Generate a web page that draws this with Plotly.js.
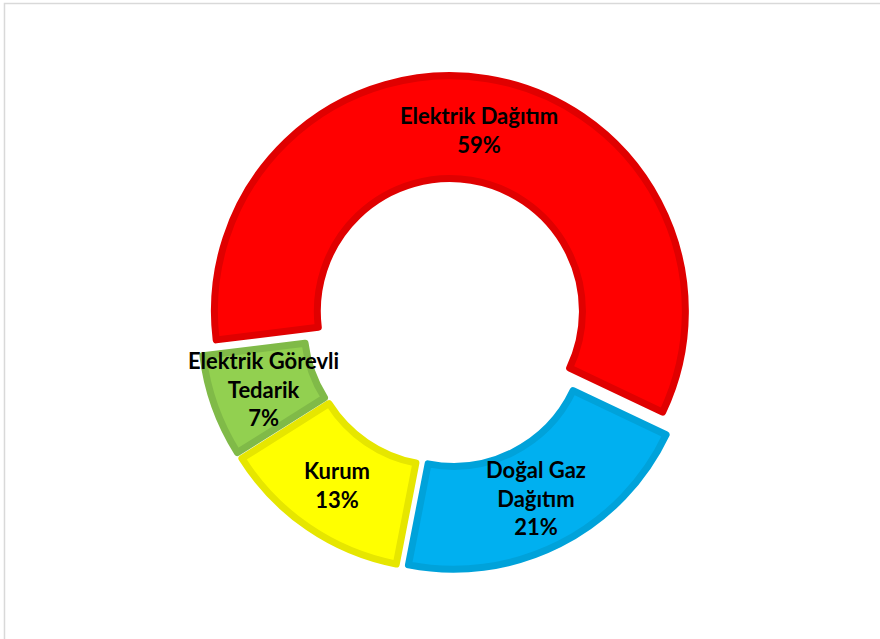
<!DOCTYPE html>
<html>
<head>
<meta charset="utf-8">
<script src="https://cdn.plot.ly/plotly-3.0.1.min.js"></script>
<style>html,body{margin:0;padding:0;background:#fff;}#chart{width:880px;height:639px;}</style>
</head>
<body>
<div id="chart"></div>
<script>
const categories = ["Elektrik Dağıtım", "Doğal Gaz Dağıtım", "Kurum", "Elektrik Görevli Tedarik"];
const displayLabels = ["Elektrik Dağıtım", "Doğal Gaz<br>Dağıtım", "Kurum", "Elektrik Görevli<br>Tedarik"];
const shares = [59, 21, 13, 7];
const fillColors = ["#FF0000", "#00B0F0", "#FFFF00", "#92D050"];
const borderColors = ["#E00000", "#00A2DA", "#E6E600", "#80BA48"];

const W = 880, H = 639;
const domX = [0.2278, 0.7903], domY = [0.1072, 0.8818];
const hole = 0.563, pullFrac = 0.051, rotation = -97;
const pulls = categories.map(() => pullFrac);

const trace = {
  type: "pie",
  labels: categories,
  values: shares,
  textinfo: "none",
  hole: hole,
  sort: false,
  direction: "clockwise",
  rotation: rotation,
  pull: pulls,
  marker: {colors: fillColors, line: {color: borderColors, width: 7}},
  domain: {x: domX, y: domY},
  showlegend: false,
  hoverinfo: "label+percent"
};

// Labels placed at each slice's mid-angle, mid-ring, derived from the same pie geometry
const total = shares.reduce((a, b) => a + b, 0);
const boxW = (domX[1] - domX[0]) * W, boxH = (domY[1] - domY[0]) * H;
const r = Math.min(boxW, boxH) / (2 * (1 + Math.max(...pulls)));
const cx = (domX[0] + domX[1]) / 2 * W;
const cy = H - (domY[0] + domY[1]) / 2 * H;
const rMid = r * (1 + hole) / 2;
let cum = 0;
const annotations = shares.map((v, i) => {
  const theta = (rotation + 360 * (cum + v / 2) / total) * Math.PI / 180;
  cum += v;
  const dist = rMid + pulls[i] * r;
  const px = cx + dist * Math.sin(theta);
  const py = cy - dist * Math.cos(theta);
  const pct = Math.round(100 * v / total) + "%";
  return {
    xref: "paper", yref: "paper",
    x: px / W, y: 1 - py / H,
    xanchor: "center", yanchor: "middle",
    showarrow: false,
    align: "center",
    text: displayLabels[i] + "<br>" + pct,
    font: {family: "Lato, 'Open Sans', sans-serif", size: 22, color: "#000000", weight: "bold"}
  };
});

const layout = {
  width: W,
  height: H,
  margin: {l: 0, r: 0, t: 0, b: 0},
  paper_bgcolor: "#ffffff",
  plot_bgcolor: "#ffffff",
  showlegend: false,
  annotations: annotations,
  shapes: [{
    type: "rect", xref: "paper", yref: "paper",
    x0: 0.0051, x1: 1.05, y0: -0.05, y1: 0.9945,
    line: {color: "#D9D9D9", width: 1.5}, fillcolor: "rgba(0,0,0,0)"
  }]
};

Plotly.newPlot("chart", [trace], layout, {displayModeBar: false, staticPlot: true});
</script>
</body>
</html>
